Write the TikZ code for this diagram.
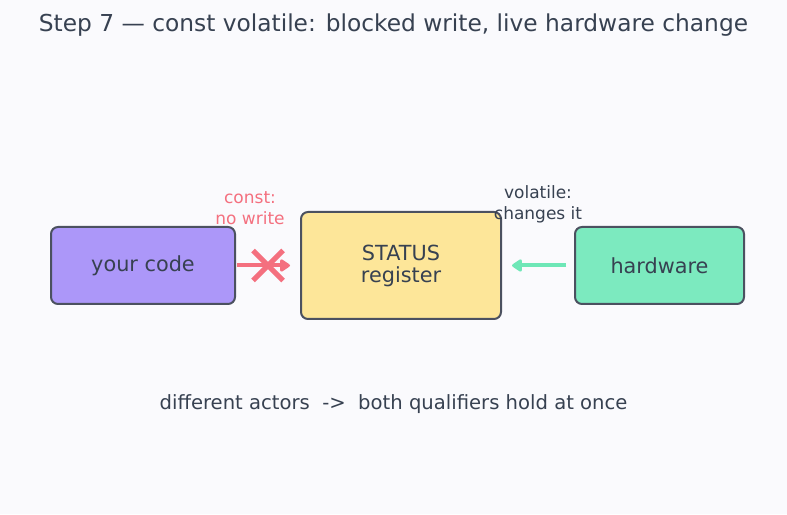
\documentclass[tikz,border=0pt]{standalone}
\usepackage{fontspec}
\setmainfont{DejaVu Sans}
\usetikzlibrary{arrows.meta}
\definecolor{bg}{HTML}{FAFAFD}
\definecolor{ink}{HTML}{374151}
\definecolor{edge}{HTML}{4B5160}
\definecolor{purp}{HTML}{AC97F9}
\definecolor{yel}{HTML}{FDE699}
\definecolor{grn}{HTML}{7CEABF}
\definecolor{redc}{HTML}{F4707F}
\definecolor{grnarr}{HTML}{6EE7B7}
\tikzset{
  box/.style={draw=edge, line width=2pt, rounded corners=7pt, inner sep=0pt, text=ink, font=\fontsize{20.8}{22}\selectfont, align=center},
  lbl/.style={font=\fontsize{17}{21}\selectfont, align=center, inner sep=0pt},
}
\begin{document}
\begin{tikzpicture}[x=1pt,y=1pt]
\fill[bg] (0,0) rectangle (787,514);
\useasboundingbox (0,0) rectangle (787,514);
\node[text=ink, font=\fontsize{23.3}{26}\selectfont] (title) at (393.5,489) {Step 7 — const volatile: blocked write, live hardware change};
\node[box, fill=purp, minimum width=184pt, minimum height=77pt] (code) at (143,248.5) {your code};
\node[box, fill=yel, minimum width=200pt, minimum height=107pt] (status) at (401,248.5) {STATUS\\register};
\node[box, fill=grn, minimum width=169pt, minimum height=77pt] (hw) at (659.5,248.5) {hardware};
\coordinate (ra) at (237,248.5);
\coordinate (rb) at (290,248.5);
\draw[redc, line width=4pt, -{Triangle[length=11pt,width=14pt,round]}] (ra) -- (rb);
\coordinate (xc) at (268,248.5);
\draw[redc, line width=5pt] ([shift={(-15,-15)}]xc) -- ([shift={(15,15)}]xc);
\draw[redc, line width=5pt] ([shift={(-15,15)}]xc) -- ([shift={(15,-15)}]xc);
\coordinate (ga) at (566,248.5);
\coordinate (gb) at (512,248.5);
\draw[grnarr, line width=4pt, -{Triangle[length=11pt,width=14pt,round]}] (ga) -- (gb);
\node[lbl, text=redc] (cl) at (250,306) {const:\\no write};
\node[lbl, text=ink] (vl) at (538,310) {volatile:\\changes it};
\node[text=ink, font=\fontsize{19.6}{22}\selectfont] (foot) at (393.5,110) {different actors\ \ ->\ \ both qualifiers hold at once};
\end{tikzpicture}
\end{document}
